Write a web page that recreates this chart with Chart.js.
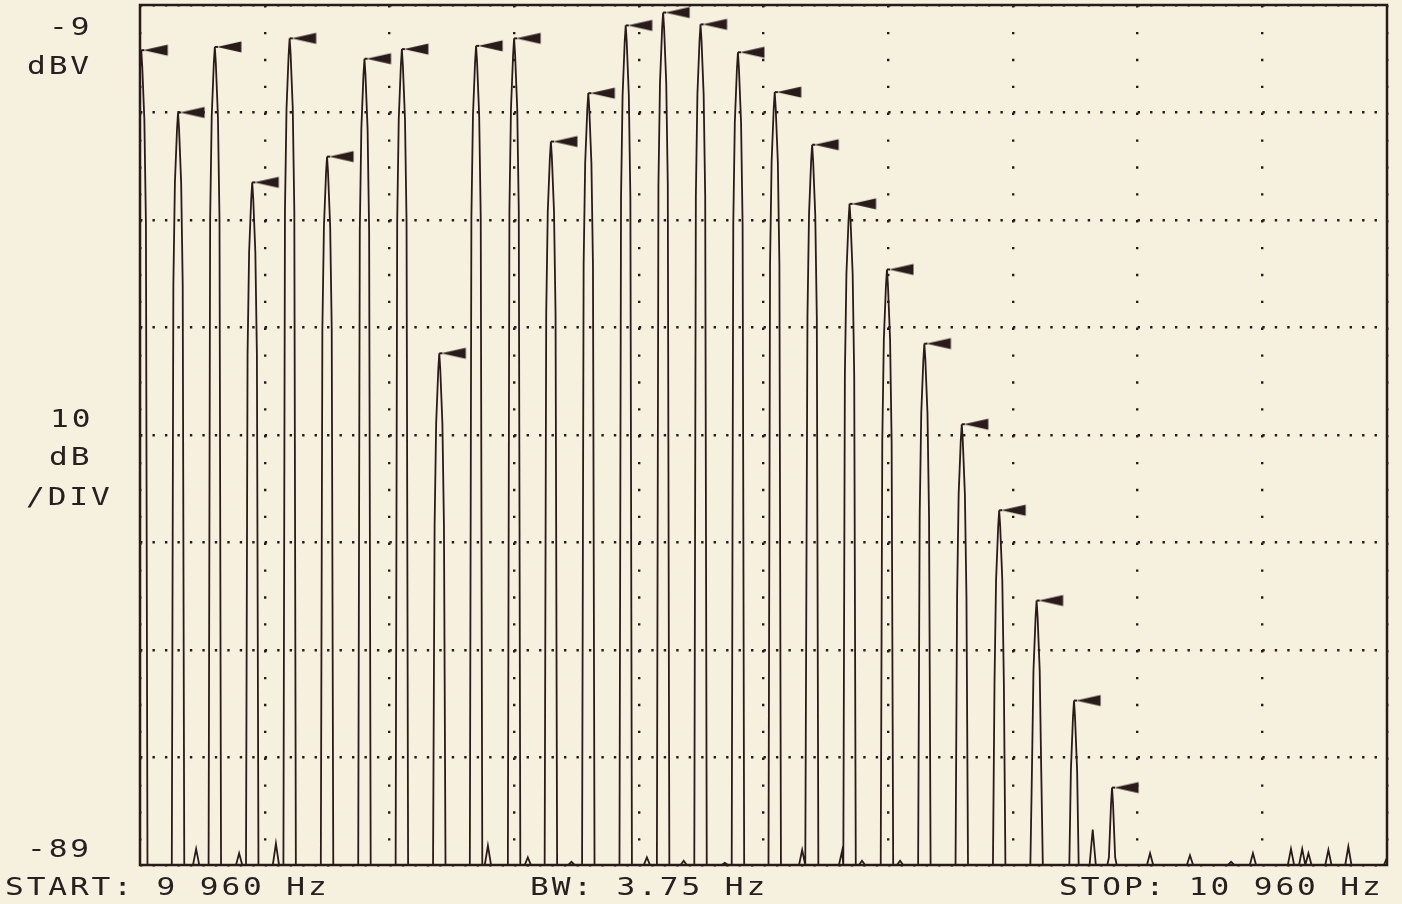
<!DOCTYPE html>
<html>
<head>
<meta charset="utf-8">
<title>Spektrum 9 960 - 10 960 Hz</title>
<script src="https://cdn.jsdelivr.net/npm/chart.js@4.4.1/dist/chart.umd.min.js"></script>
<style>
    html, body { margin: 0; padding: 0; background: #f6f0df; }
    #wrap { width: 1402px; height: 904px; }
</style>
</head>
<body>
<div id="wrap"><canvas id="spektrum" width="1402" height="904"></canvas></div>
<script>
// sumbu frekuensi (Hz) dan level (dBV), 100 Hz/div dan 10 dB/div
const startHz = 9960;
const stopHz = 10960;
const levelAtas = -9;
const levelBawah = -89;
const tickFrek = [9960, 10060, 10160, 10260, 10360, 10460, 10560, 10660, 10760, 10860, 10960];
const tickLevel = [-89, -79, -69, -59, -49, -39, -29, -19, -9];

// harmonik yang diberi marker (jarak ~30 Hz)
const frekPuncak = [9961, 9990.5, 10020, 10050, 10080, 10110, 10140, 10170, 10200, 10229.5,
    10260, 10289.5, 10319.5, 10349.5, 10379.5, 10409.5, 10439.5, 10469, 10499, 10529,
    10559, 10589, 10619, 10649, 10679, 10709, 10739.5];
const levelPuncak = [-13.2, -19.0, -12.9, -25.5, -12.1, -23.1, -14.0, -13.1, -41.4, -12.8,
    -12.1, -21.7, -17.2, -10.9, -9.7, -10.8, -13.4, -17.1, -22.0, -27.5,
    -33.6, -40.5, -48.0, -56.0, -64.4, -73.7, -81.8];

// tonjolan kecil di atas lantai derau
const frekSpur = [10005, 10039.5, 10069, 10239, 10271, 10306, 10366.5, 10396, 10429, 10491,
    10523, 10539, 10569.5, 10724, 10770, 10802, 10835, 10852.5, 10883, 10892,
    10897, 10913, 10929];
const levelSpur = [-87.5, -87.9, -87.0, -87.2, -88.3, -88.7, -88.3, -88.6, -88.8, -87.6,
    -87.7, -88.6, -88.6, -85.7, -87.9, -88.1, -88.7, -87.9, -87.5, -87.5,
    -87.9, -87.6, -87.3];

// titik ujung kanan jejak (naik sedikit di 10 960 Hz)
const frekUjung = [10957.5, 10960];
const levelUjung = [-89, -88.3];

// bentuk puncak: jarak dari pusat (Hz) dan turunnya (dB)
const profilJarak = [0.8, 2.5, 3.75, 5];
const profilTurun = [1.5, 6.5, 16, 200];
const lebarSpur = 2.5;
const lantai = -89;

function susunJejak() {
    const titik = [];
    const rentang = profilJarak[profilJarak.length - 1];
    frekPuncak.forEach((f, i) => {
        const L = levelPuncak[i];
        titik.push({ x: f, y: L });
        profilJarak.forEach((d, k) => {
            const y = Math.max(lantai, L - profilTurun[k]);
            titik.push({ x: f - d, y });
            titik.push({ x: f + d, y });
        });
    });
    // kaki spur yang jatuh di dalam puncak besar tidak dipakai
    const diLuarPuncak = x => frekPuncak.every(f => Math.abs(x - f) >= rentang);
    frekSpur.forEach((f, i) => {
        if (diLuarPuncak(f - lebarSpur)) titik.push({ x: f - lebarSpur, y: lantai });
        titik.push({ x: f, y: levelSpur[i] });
        if (diLuarPuncak(f + lebarSpur)) titik.push({ x: f + lebarSpur, y: lantai });
    });
    frekUjung.forEach((f, i) => titik.push({ x: f, y: levelUjung[i] }));
    titik.sort((a, b) => a.x - b.x);
    return titik;
}

const warnaTinta = '#2a1b1b';

// bendera marker: garis pendek + segitiga menghadap kiri
function buatBendera() {
    const c = document.createElement('canvas');
    c.width = 58;
    c.height = 14;
    const g = c.getContext('2d');
    g.fillStyle = warnaTinta;
    g.strokeStyle = warnaTinta;
    g.lineWidth = 2;
    g.beginPath();
    g.moveTo(29, 7);
    g.lineTo(32, 7);
    g.stroke();
    g.beginPath();
    g.moveTo(31, 7);
    g.lineTo(55.5, 1.5);
    g.lineTo(55.5, 12.5);
    g.closePath();
    g.fill();
    return c;
}

const labelTeks = [
    { teks: '-9', x: 49, y: 35 },
    { teks: 'dBV', x: 27, y: 74 },
    { teks: '10', x: 50, y: 427 },
    { teks: 'dB', x: 49, y: 465 },
    { teks: '/DIV', x: 26, y: 505 },
    { teks: '-89', x: 27, y: 857 },
    { teks: 'START: 9 960 Hz', x: 5, y: 895 },
    { teks: 'BW: 3.75 Hz', x: 530, y: 895 },
    { teks: 'STOP: 10 960 Hz', x: 1059, y: 895 }
];

const pluginLatar = {
    id: 'latar',
    beforeDraw(chart) {
        const ctx = chart.ctx;
        ctx.save();
        ctx.fillStyle = '#f6f0df';
        ctx.fillRect(0, 0, chart.width, chart.height);
        ctx.restore();
    }
};

const pluginBingkai = {
    id: 'bingkai',
    afterDraw(chart) {
        const ctx = chart.ctx;
        const a = chart.chartArea;
        ctx.save();
        ctx.strokeStyle = warnaTinta;
        ctx.lineWidth = 2.5;
        ctx.strokeRect(a.left, a.top, a.right - a.left, a.bottom - a.top);

        ctx.fillStyle = '#262020';
        ctx.font = '24px "DejaVu Sans Mono"';
        ctx.textBaseline = 'alphabetic';
        labelTeks.forEach(l => {
            ctx.save();
            ctx.translate(l.x, l.y);
            ctx.scale(1.3, 1);
            ctx.letterSpacing = '2.2px';
            ctx.fillText(l.teks, 0, 0);
            ctx.restore();
        });
        ctx.restore();
    }
};

const ctx = document.getElementById('spektrum').getContext('2d');
const bendera = buatBendera();

new Chart(ctx, {
    type: 'line',
    data: {
        datasets: [
            {
                label: 'trace',
                data: susunJejak(),
                borderColor: warnaTinta,
                borderWidth: 1.8,
                pointRadius: 0,
                tension: 0,
                fill: false
            },
            {
                label: 'marker',
                data: frekPuncak.map((f, i) => ({ x: f, y: levelPuncak[i] })),
                showLine: false,
                pointStyle: bendera,
                pointRadius: 3,
                clip: false
            }
        ]
    },
    options: {
        responsive: false,
        animation: false,
        devicePixelRatio: 1,
        layout: { padding: { left: 140, top: 5, right: 15, bottom: 39 } },
        plugins: {
            legend: { display: false },
            tooltip: { enabled: false }
        },
        scales: {
            x: {
                type: 'linear',
                min: startHz,
                max: stopHz,
                afterBuildTicks: s => { s.ticks = tickFrek.map(v => ({ value: v })); },
                ticks: { display: false },
                grid: { color: warnaTinta, lineWidth: 2.4, drawTicks: false },
                border: { display: false, dash: [2.4, 24.475] }
            },
            y: {
                type: 'linear',
                min: levelBawah,
                max: levelAtas,
                afterBuildTicks: s => { s.ticks = tickLevel.map(v => ({ value: v })); },
                ticks: { display: false },
                grid: { color: warnaTinta, lineWidth: 2.4, drawTicks: false },
                border: { display: false, dash: [2.4, 10.07] }
            }
        }
    },
    plugins: [pluginLatar, pluginBingkai]
});
</script>
</body>
</html>
